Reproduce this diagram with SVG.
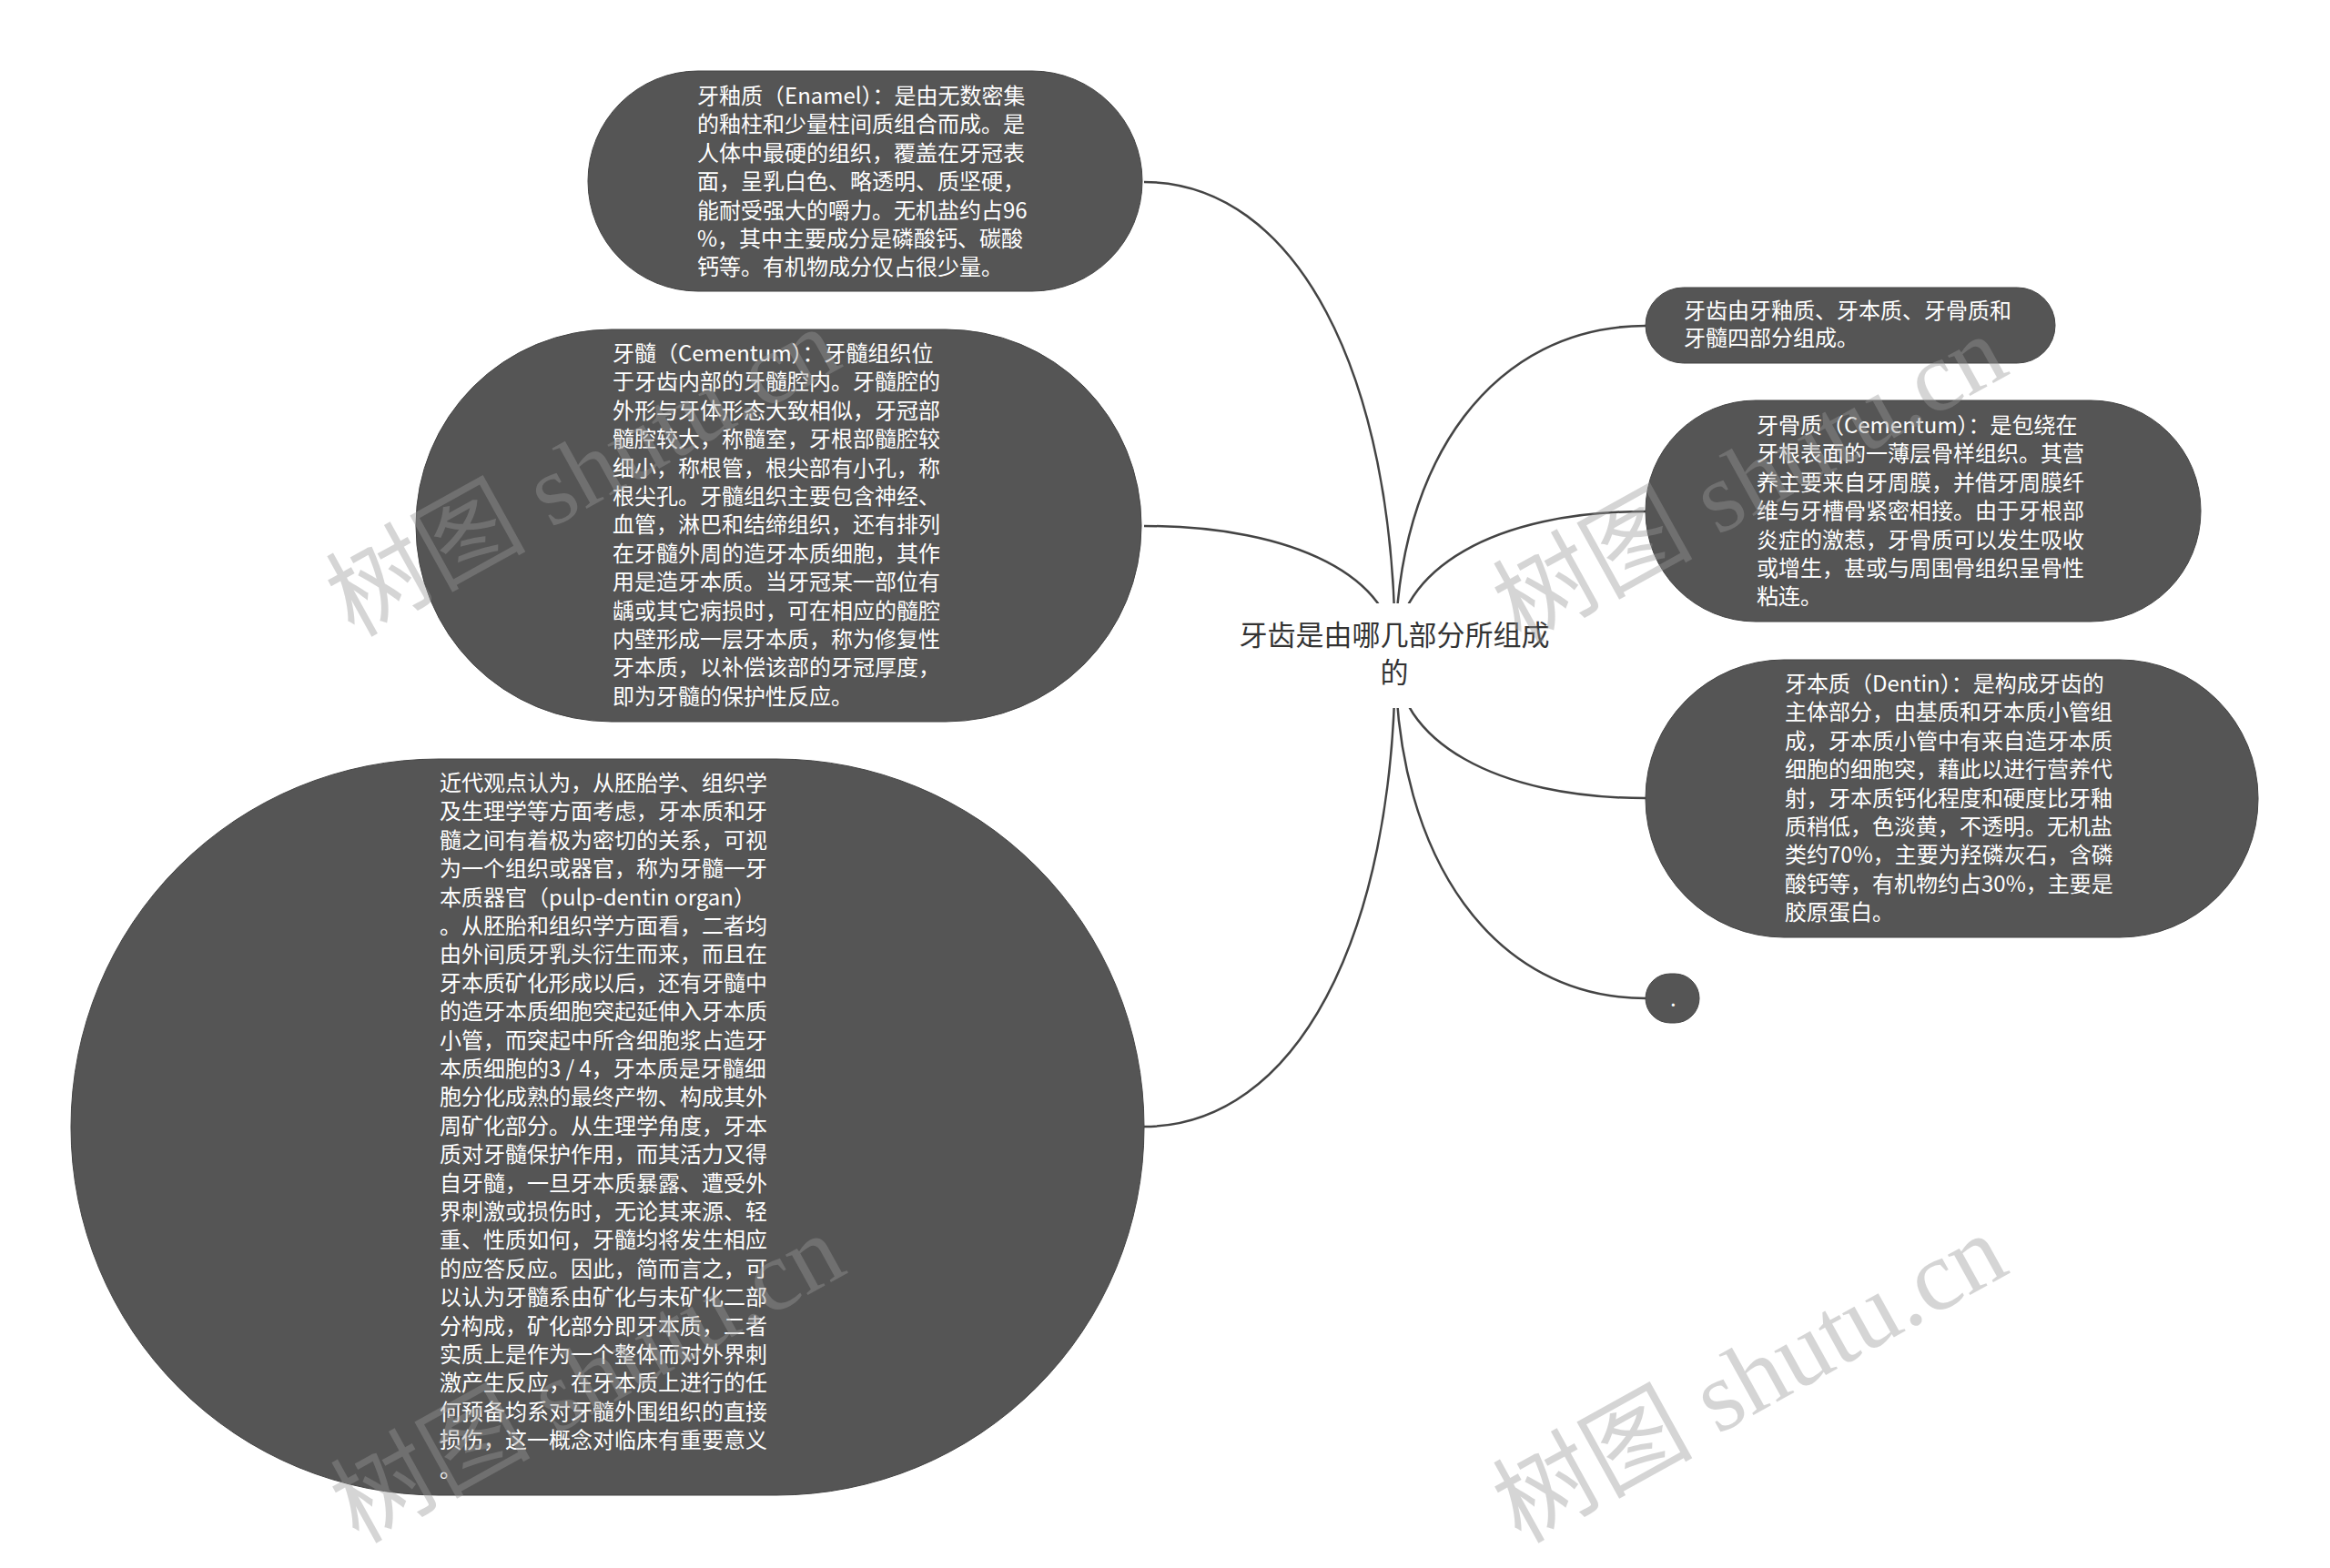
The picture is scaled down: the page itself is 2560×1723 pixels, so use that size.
<svg xmlns="http://www.w3.org/2000/svg" width="2560" height="1723" viewBox="0 0 2560 1723">
<style>
.node{fill:#555555;stroke:#444444;stroke-width:1}
.nt{font-family:"Noto Sans CJK SC","Noto Sans",sans-serif;font-size:24px;fill:#ffffff}
.ct{font-family:"Noto Sans CJK SC","Noto Sans",sans-serif;font-size:31px;fill:#333333}
.link{fill:none;stroke:#444444;stroke-width:2.5}
.wm{font-family:"Liberation Serif","Noto Sans CJK SC",serif;font-size:110px;fill:#999999;opacity:0.4}
</style>
<rect x="0" y="0" width="2560" height="1723" fill="#ffffff"/>
<g id="connectors">
<path class="link" d="M1533,720 C1533,408 1423,200 1257,200"/>
<path class="link" d="M1533,720 C1533,635 1423,578 1257,578"/>
<path class="link" d="M1533,720 C1533,1031 1423,1238 1257,1238"/>
<path class="link" d="M1533,720 C1533,503 1643,358 1808,358"/>
<path class="link" d="M1533,720 C1533,625 1643,562 1808,562"/>
<path class="link" d="M1533,720 C1533,814 1643,877 1808,877"/>
<path class="link" d="M1533,720 C1533,946 1643,1097 1808,1097"/>
</g>
<g id="center">
<rect x="1340" y="663" width="386" height="115" fill="#ffffff"/>
<text class="ct" text-anchor="middle"><tspan x="1532" y="709">牙齿是由哪几部分所组成</tspan><tspan x="1532" y="750">的</tspan></text>
</g>
<g id="enamel">
<rect class="node" x="646" y="78" width="609" height="242" rx="121" ry="121"/>
<text class="nt">
<tspan x="766" y="114">牙釉质（Enamel）：是由无数密集</tspan>
<tspan x="766" y="145.4">的釉柱和少量柱间质组合而成。是</tspan>
<tspan x="766" y="176.8">人体中最硬的组织，覆盖在牙冠表</tspan>
<tspan x="766" y="208.2">面，呈乳白色、略透明、质坚硬，</tspan>
<tspan x="766" y="239.6">能耐受强大的嚼力。无机盐约占96</tspan>
<tspan x="766" y="271">%，其中主要成分是磷酸钙、碳酸</tspan>
<tspan x="766" y="302.4">钙等。有机物成分仅占很少量。</tspan>
</text>
</g>
<g id="pulp">
<rect class="node" x="457" y="362" width="797" height="431" rx="215" ry="215"/>
<text class="nt">
<tspan x="673" y="397">牙髓（Cementum）：牙髓组织位</tspan>
<tspan x="673" y="428.4">于牙齿内部的牙髓腔内。牙髓腔的</tspan>
<tspan x="673" y="459.8">外形与牙体形态大致相似，牙冠部</tspan>
<tspan x="673" y="491.2">髓腔较大，称髓室，牙根部髓腔较</tspan>
<tspan x="673" y="522.6">细小，称根管，根尖部有小孔，称</tspan>
<tspan x="673" y="554">根尖孔。牙髓组织主要包含神经、</tspan>
<tspan x="673" y="585.4">血管，淋巴和结缔组织，还有排列</tspan>
<tspan x="673" y="616.8">在牙髓外周的造牙本质细胞，其作</tspan>
<tspan x="673" y="648.2">用是造牙本质。当牙冠某一部位有</tspan>
<tspan x="673" y="679.6">龋或其它病损时，可在相应的髓腔</tspan>
<tspan x="673" y="711">内壁形成一层牙本质，称为修复性</tspan>
<tspan x="673" y="742.4">牙本质，以补偿该部的牙冠厚度，</tspan>
<tspan x="673" y="773.8">即为牙髓的保护性反应。</tspan>
</text>
</g>
<g id="pulp-dentin">
<rect class="node" x="78" y="834" width="1179" height="809" rx="404" ry="404"/>
<text class="nt">
<tspan x="483" y="869">近代观点认为，从胚胎学、组织学</tspan>
<tspan x="483" y="900.4">及生理学等方面考虑，牙本质和牙</tspan>
<tspan x="483" y="931.8">髓之间有着极为密切的关系，可视</tspan>
<tspan x="483" y="963.2">为一个组织或器官，称为牙髓一牙</tspan>
<tspan x="483" y="994.6">本质器官（pulp-dentin organ）</tspan>
<tspan x="483" y="1026">。从胚胎和组织学方面看，二者均</tspan>
<tspan x="483" y="1057.4">由外间质牙乳头衍生而来，而且在</tspan>
<tspan x="483" y="1088.8">牙本质矿化形成以后，还有牙髓中</tspan>
<tspan x="483" y="1120.2">的造牙本质细胞突起延伸入牙本质</tspan>
<tspan x="483" y="1151.6">小管，而突起中所含细胞浆占造牙</tspan>
<tspan x="483" y="1183">本质细胞的3 / 4，牙本质是牙髓细</tspan>
<tspan x="483" y="1214.4">胞分化成熟的最终产物、构成其外</tspan>
<tspan x="483" y="1245.8">周矿化部分。从生理学角度，牙本</tspan>
<tspan x="483" y="1277.2">质对牙髓保护作用，而其活力又得</tspan>
<tspan x="483" y="1308.6">自牙髓，一旦牙本质暴露、遭受外</tspan>
<tspan x="483" y="1340">界刺激或损伤时，无论其来源、轻</tspan>
<tspan x="483" y="1371.4">重、性质如何，牙髓均将发生相应</tspan>
<tspan x="483" y="1402.8">的应答反应。因此，简而言之，可</tspan>
<tspan x="483" y="1434.2">以认为牙髓系由矿化与未矿化二部</tspan>
<tspan x="483" y="1465.6">分构成，矿化部分即牙本质，二者</tspan>
<tspan x="483" y="1497">实质上是作为一个整体而对外界刺</tspan>
<tspan x="483" y="1528.4">激产生反应，在牙本质上进行的任</tspan>
<tspan x="483" y="1559.8">何预备均系对牙髓外围组织的直接</tspan>
<tspan x="483" y="1591.2">损伤，这一概念对临床有重要意义</tspan>
<tspan x="483" y="1622.6">。</tspan>
</text>
</g>
<g id="summary">
<rect class="node" x="1808" y="316" width="450" height="83" rx="41.5" ry="41.5"/>
<text class="nt">
<tspan x="1850" y="350">牙齿由牙釉质、牙本质、牙骨质和</tspan>
<tspan x="1850" y="380">牙髓四部分组成。</tspan>
</text>
</g>
<g id="cementum">
<rect class="node" x="1808" y="440" width="610" height="243" rx="121" ry="121"/>
<text class="nt">
<tspan x="1930" y="476">牙骨质（Cementum）：是包绕在</tspan>
<tspan x="1930" y="507.4">牙根表面的一薄层骨样组织。其营</tspan>
<tspan x="1930" y="538.8">养主要来自牙周膜，并借牙周膜纤</tspan>
<tspan x="1930" y="570.2">维与牙槽骨紧密相接。由于牙根部</tspan>
<tspan x="1930" y="601.6">炎症的激惹，牙骨质可以发生吸收</tspan>
<tspan x="1930" y="633">或增生，甚或与周围骨组织呈骨性</tspan>
<tspan x="1930" y="664.4">粘连。</tspan>
</text>
</g>
<g id="dentin">
<rect class="node" x="1808" y="725" width="673" height="305" rx="152" ry="152"/>
<text class="nt">
<tspan x="1961" y="760">牙本质（Dentin）：是构成牙齿的</tspan>
<tspan x="1961" y="791.4">主体部分，由基质和牙本质小管组</tspan>
<tspan x="1961" y="822.8">成，牙本质小管中有来自造牙本质</tspan>
<tspan x="1961" y="854.2">细胞的细胞突，藉此以进行营养代</tspan>
<tspan x="1961" y="885.6">射，牙本质钙化程度和硬度比牙釉</tspan>
<tspan x="1961" y="917">质稍低，色淡黄，不透明。无机盐</tspan>
<tspan x="1961" y="948.4">类约70%，主要为羟磷灰石，含磷</tspan>
<tspan x="1961" y="979.8">酸钙等，有机物约占30%，主要是</tspan>
<tspan x="1961" y="1011.2">胶原蛋白。</tspan>
</text>
</g>
<g id="dot">
<rect class="node" x="1808" y="1070" width="59" height="54" rx="27" ry="27"/>
<text class="nt" x="1835" y="1106">.</text>
</g>
<g id="watermarks">
<text class="wm" text-anchor="middle" transform="translate(640,518) rotate(-29)" x="0" y="38">树图 shutu.cn</text>
<text class="wm" text-anchor="middle" transform="translate(1922,526) rotate(-29)" x="0" y="38">树图 shutu.cn</text>
<text class="wm" text-anchor="middle" transform="translate(645,1514) rotate(-29)" x="0" y="38">树图 shutu.cn</text>
<text class="wm" text-anchor="middle" transform="translate(1922,1514) rotate(-29)" x="0" y="38">树图 shutu.cn</text>
</g>
</svg>
